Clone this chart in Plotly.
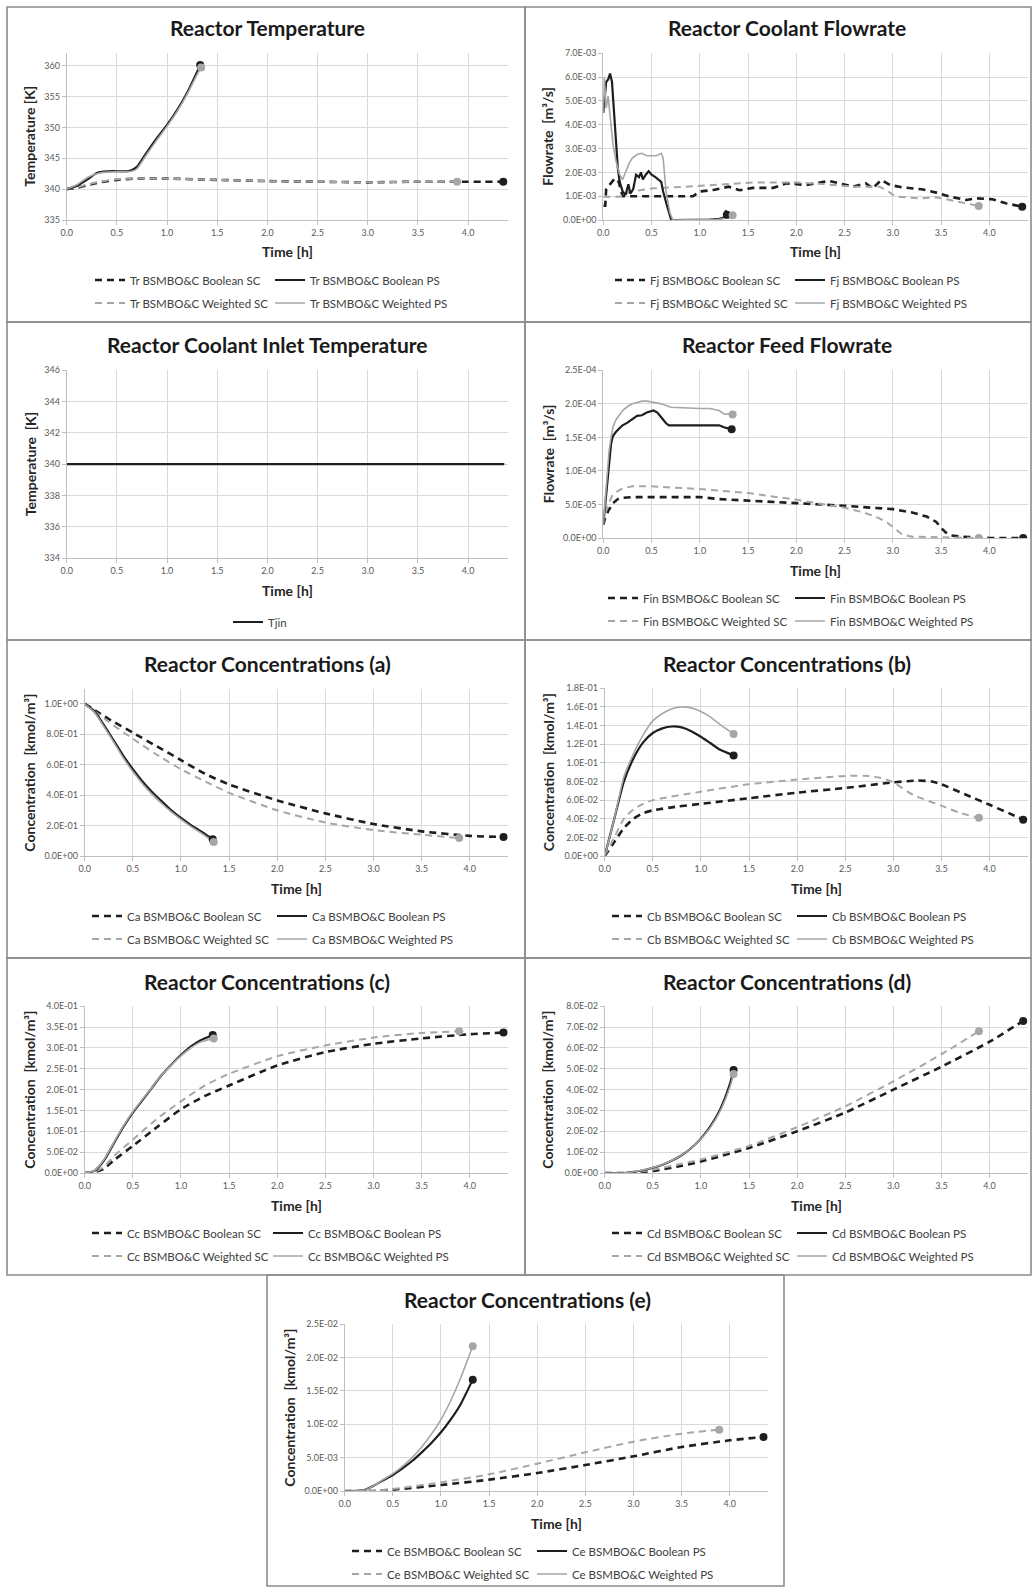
import plotly.graph_objects as go

W, H = 1034, 1588

# ---------------- data ----------------
TIME_TICKS = [0.0, 0.5, 1.0, 1.5, 2.0, 2.5, 3.0, 3.5, 4.0]
TIME_TICK_LABELS = ["0.0", "0.5", "1.0", "1.5", "2.0", "2.5", "3.0", "3.5", "4.0"]

# Panel 1: Reactor Temperature
TR_TICKS = [335, 340, 345, 350, 355, 360]
TR_TICK_LABELS = ["335", "340", "345", "350", "355", "360"]
TR_BOOL_SC_T = [0, 0.1, 0.2, 0.3, 0.5, 0.7, 1.0, 1.5, 2.0, 2.5, 3.0, 3.5, 4.0, 4.35]
TR_BOOL_SC_V = [340.0, 340.2, 340.6, 341.0, 341.5, 341.7, 341.7, 341.5, 341.3, 341.2, 341.1, 341.2, 341.2, 341.2]
TR_WGT_SC_T = [0, 0.1, 0.2, 0.3, 0.5, 0.7, 1.0, 1.5, 2.0, 2.5, 3.0, 3.5, 3.89]
TR_WGT_SC_V = [340.0, 340.3, 340.7, 341.1, 341.6, 341.7, 341.7, 341.5, 341.3, 341.2, 341.1, 341.2, 341.2]
TR_BOOL_PS_T = [0, 0.1, 0.2, 0.3, 0.35, 0.45, 0.6, 0.65, 0.7, 0.8, 0.9, 1.0, 1.1, 1.2, 1.3, 1.33]
TR_BOOL_PS_V = [340.0, 340.5, 341.5, 342.6, 342.8, 342.9, 342.9, 343.1, 343.6, 346.0, 348.3, 350.4, 352.8, 355.6, 359.0, 360.1]
TR_WGT_PS_T = [0, 0.1, 0.2, 0.25, 0.3, 0.35, 0.45, 0.6, 0.65, 0.7, 0.8, 0.9, 1.0, 1.1, 1.2, 1.3, 1.34]
TR_WGT_PS_V = [340.0, 340.7, 341.8, 342.2, 342.5, 342.7, 342.8, 342.8, 342.9, 343.3, 345.7, 348.0, 350.2, 352.6, 355.4, 358.6, 359.7]

# Panel 2: Reactor Coolant Flowrate
FJ_TICKS = [0, 0.001, 0.002, 0.003, 0.004, 0.005, 0.006, 0.007]
FJ_TICK_LABELS = ["0.0E+00", "1.0E-03", "2.0E-03", "3.0E-03", "4.0E-03", "5.0E-03", "6.0E-03", "7.0E-03"]
FJ_BOOL_SC_T = [0, 0.02, 0.03, 0.07, 0.12, 0.16, 0.2, 0.5, 0.93, 1.0, 1.14, 1.3, 1.41, 1.55, 1.76, 1.9, 2.1,
                2.34, 2.45, 2.59, 2.72, 2.79, 2.88, 2.97, 3.1, 3.3, 3.45, 3.59, 3.76, 3.86, 4.03, 4.17, 4.34]
FJ_BOOL_SC_V = [0.0006, 0.0006, 0.0013, 0.0015, 0.00175, 0.0016, 0.001, 0.001, 0.001, 0.0012, 0.00126, 0.0014,
                0.00125, 0.00135, 0.00135, 0.00154, 0.00147, 0.00164, 0.00154, 0.0014, 0.00154, 0.00133, 0.00168,
                0.00147, 0.00137, 0.00129, 0.00115, 0.00098, 0.00084, 0.00091, 0.00087, 0.0007, 0.00056]
FJ_WGT_SC_T = [0, 0.17, 0.28, 0.52, 0.86, 1.2, 1.55, 2.0, 2.24, 2.59, 2.86, 2.93, 3.03, 3.28, 3.45, 3.59, 3.76, 3.89]
FJ_WGT_SC_V = [0.00098, 0.00098, 0.0012, 0.00133, 0.0014, 0.00147, 0.00157, 0.00157, 0.00152, 0.0014, 0.0014,
               0.00126, 0.00098, 0.00091, 0.00095, 0.00084, 0.0007, 0.00059]
FJ_BOOL_PS_T = [0, 0.03, 0.05, 0.07, 0.09, 0.11, 0.13, 0.15, 0.17, 0.2, 0.23, 0.26, 0.28, 0.31, 0.34, 0.37, 0.39,
                0.41, 0.44, 0.47, 0.5, 0.54, 0.6, 0.62, 0.66, 0.7, 0.72, 1.0, 1.1, 1.2, 1.25, 1.27, 1.28]
FJ_BOOL_PS_V = [0.0045, 0.0058, 0.0059, 0.00615, 0.0058, 0.0045, 0.0032, 0.0022, 0.0016, 0.0012, 0.00105, 0.0015,
                0.0011, 0.0013, 0.0019, 0.0018, 0.002, 0.0017, 0.0019, 0.00205, 0.0019, 0.0018, 0.0016, 0.0012,
                0.0006, 0.00005, 0.0, 0.0, 0.00002, 0.00005, 0.0001, 0.0004, 0.00022]
FJ_WGT_PS_T = [0, 0.01, 0.03, 0.05, 0.08, 0.1, 0.13, 0.17, 0.2, 0.23, 0.27, 0.3, 0.35, 0.4, 0.45, 0.5, 0.55, 0.6,
               0.62, 0.65, 0.69, 0.72, 1.0, 1.2, 1.3, 1.34]
FJ_WGT_PS_V = [0.0045, 0.006, 0.0047, 0.0052, 0.004, 0.0032, 0.0025, 0.0019, 0.0017, 0.002, 0.0024, 0.0026,
               0.00275, 0.0028, 0.0027, 0.0027, 0.0027, 0.0028, 0.0026, 0.0012, 0.0003, 0.0, 0.0, 0.00003,
               0.0001, 0.0002]

# Panel 3: Reactor Coolant Inlet Temperature
TJ_TICKS = [334, 336, 338, 340, 342, 344, 346]
TJ_TICK_LABELS = ["334", "336", "338", "340", "342", "344", "346"]
TJIN_T = [0, 4.36]
TJIN_V = [340, 340]

# Panel 4: Reactor Feed Flowrate
FIN_TICKS = [0, 0.00005, 0.0001, 0.00015, 0.0002, 0.00025]
FIN_TICK_LABELS = ["0.0E+00", "5.0E-05", "1.0E-04", "1.5E-04", "2.0E-04", "2.5E-04"]
FIN_BOOL_SC_T = [0, 0.02, 0.05, 0.08, 0.1, 0.15, 0.2, 0.3, 0.5, 1.0, 1.2, 1.5, 2.0, 2.5, 2.8, 3.0, 3.2, 3.35,
                 3.45, 3.5, 3.55, 3.6, 3.7, 3.8, 4.0, 4.35]
FIN_BOOL_SC_V = [2.0e-5, 3.0e-5, 4.0e-5, 4.8e-5, 5.2e-5, 5.8e-5, 6.0e-5, 6.1e-5, 6.1e-5, 6.1e-5, 5.8e-5, 5.6e-5,
                 5.2e-5, 4.8e-5, 4.5e-5, 4.3e-5, 3.8e-5, 3.2e-5, 2.4e-5, 1.5e-5, 0.8e-5, 0.4e-5, 0.2e-5, 0.1e-5,
                 0.0, 0.0]
FIN_WGT_SC_T = [0, 0.02, 0.05, 0.08, 0.1, 0.15, 0.2, 0.3, 0.5, 1.0, 1.5, 2.0, 2.5, 2.7, 2.85, 2.95, 3.0, 3.05,
                3.1, 3.2, 3.5, 3.89]
FIN_WGT_SC_V = [2.0e-5, 3.5e-5, 5.0e-5, 6.0e-5, 6.5e-5, 7.0e-5, 7.4e-5, 7.7e-5, 7.7e-5, 7.3e-5, 6.7e-5, 5.7e-5,
                4.5e-5, 3.8e-5, 3.0e-5, 2.2e-5, 1.6e-5, 1.0e-5, 0.5e-5, 0.2e-5, 0.1e-5, 0.0]
FIN_BOOL_PS_T = [0, 0.02, 0.04, 0.06, 0.08, 0.1, 0.13, 0.17, 0.2, 0.25, 0.3, 0.35, 0.4, 0.45, 0.52, 0.56, 0.6,
                 0.65, 0.68, 0.8, 1.0, 1.2, 1.25, 1.33]
FIN_BOOL_PS_V = [2.0e-5, 5.0e-5, 9.0e-5, 1.2e-4, 1.4e-4, 1.52e-4, 1.58e-4, 1.64e-4, 1.68e-4, 1.72e-4, 1.77e-4,
                 1.82e-4, 1.83e-4, 1.87e-4, 1.9e-4, 1.87e-4, 1.8e-4, 1.71e-4, 1.68e-4, 1.68e-4, 1.68e-4, 1.68e-4,
                 1.65e-4, 1.62e-4]
FIN_WGT_PS_T = [0, 0.02, 0.04, 0.06, 0.08, 0.1, 0.13, 0.17, 0.2, 0.25, 0.3, 0.35, 0.4, 0.45, 0.5, 0.6, 0.7, 0.8,
                1.0, 1.1, 1.2, 1.25, 1.34]
FIN_WGT_PS_V = [2.0e-5, 6.0e-5, 1.0e-4, 1.3e-4, 1.5e-4, 1.65e-4, 1.76e-4, 1.85e-4, 1.9e-4, 1.96e-4, 2.0e-4,
                2.02e-4, 2.04e-4, 2.04e-4, 2.03e-4, 2.0e-4, 1.95e-4, 1.94e-4, 1.93e-4, 1.93e-4, 1.9e-4, 1.85e-4,
                1.84e-4]

# Panel 5: Reactor Concentrations (a)
CA_TICKS = [0, 0.2, 0.4, 0.6, 0.8, 1.0]
CA_TICK_LABELS = ["0.0E+00", "2.0E-01", "4.0E-01", "6.0E-01", "8.0E-01", "1.0E+00"]
CA_BOOL_SC_T = [0, 0.25, 0.5, 0.75, 1.0, 1.25, 1.5, 2.0, 2.5, 3.0, 3.5, 4.0, 4.35]
CA_BOOL_SC_V = [1.0, 0.9, 0.81, 0.72, 0.63, 0.54, 0.47, 0.365, 0.28, 0.21, 0.162, 0.132, 0.125]
CA_WGT_SC_T = [0, 0.25, 0.5, 0.75, 1.0, 1.25, 1.5, 2.0, 2.5, 3.0, 3.5, 3.89]
CA_WGT_SC_V = [1.0, 0.88, 0.77, 0.665, 0.57, 0.49, 0.415, 0.30, 0.22, 0.17, 0.14, 0.118]
CA_BOOL_PS_T = [0, 0.1, 0.2, 0.3, 0.4, 0.5, 0.6, 0.7, 0.8, 0.9, 1.0, 1.1, 1.2, 1.33]
CA_BOOL_PS_V = [1.0, 0.95, 0.86, 0.76, 0.66, 0.57, 0.49, 0.42, 0.36, 0.30, 0.25, 0.205, 0.165, 0.11]
CA_WGT_PS_T = [0, 0.1, 0.2, 0.3, 0.4, 0.5, 0.6, 0.7, 0.8, 0.9, 1.0, 1.1, 1.2, 1.34]
CA_WGT_PS_V = [1.0, 0.945, 0.85, 0.75, 0.645, 0.555, 0.475, 0.405, 0.345, 0.29, 0.24, 0.195, 0.155, 0.092]

# Panel 6: Reactor Concentrations (b)
CB_TICKS = [0, 0.02, 0.04, 0.06, 0.08, 0.10, 0.12, 0.14, 0.16, 0.18]
CB_TICK_LABELS = ["0.0E+00", "2.0E-02", "4.0E-02", "6.0E-02", "8.0E-02", "1.0E-01", "1.2E-01", "1.4E-01",
                  "1.6E-01", "1.8E-01"]
CB_BOOL_SC_T = [0, 0.1, 0.2, 0.3, 0.4, 0.5, 0.75, 1.0, 1.5, 2.0, 2.5, 3.0, 3.25, 3.4, 3.5, 3.75, 4.0, 4.2, 4.35]
CB_BOOL_SC_V = [0.0, 0.015, 0.03, 0.04, 0.046, 0.049, 0.053, 0.056, 0.062, 0.068, 0.073, 0.079, 0.081, 0.08,
                0.077, 0.066, 0.055, 0.046, 0.039]
CB_WGT_SC_T = [0, 0.1, 0.2, 0.3, 0.4, 0.5, 1.0, 1.5, 2.0, 2.5, 2.75, 2.9, 3.0, 3.2, 3.5, 3.7, 3.89]
CB_WGT_SC_V = [0.0, 0.02, 0.04, 0.05, 0.056, 0.06, 0.069, 0.077, 0.082, 0.086, 0.086, 0.083, 0.079, 0.066,
               0.054, 0.046, 0.041]
CB_BOOL_PS_T = [0, 0.1, 0.2, 0.3, 0.4, 0.5, 0.6, 0.7, 0.8, 0.9, 1.0, 1.1, 1.2, 1.34]
CB_BOOL_PS_V = [0.0, 0.04, 0.08, 0.105, 0.122, 0.132, 0.137, 0.139, 0.138, 0.134, 0.128, 0.121, 0.114, 0.108]
CB_WGT_PS_T = [0, 0.1, 0.2, 0.3, 0.4, 0.5, 0.6, 0.7, 0.8, 0.9, 1.0, 1.1, 1.2, 1.34]
CB_WGT_PS_V = [0.0, 0.04, 0.085, 0.11, 0.13, 0.145, 0.153, 0.158, 0.16, 0.159, 0.155, 0.149, 0.141, 0.131]

# Panel 7: Reactor Concentrations (c)
CC_TICKS = [0, 0.05, 0.10, 0.15, 0.20, 0.25, 0.30, 0.35, 0.40]
CC_TICK_LABELS = ["0.0E+00", "5.0E-02", "1.0E-01", "1.5E-01", "2.0E-01", "2.5E-01", "3.0E-01", "3.5E-01",
                  "4.0E-01"]
CC_BOOL_SC_T = [0, 0.1, 0.2, 0.3, 0.5, 0.75, 1.0, 1.25, 1.5, 2.0, 2.5, 3.0, 3.5, 4.0, 4.35]
CC_BOOL_SC_V = [0.0, 0.002, 0.01, 0.03, 0.065, 0.11, 0.153, 0.185, 0.21, 0.258, 0.29, 0.31, 0.323, 0.333, 0.337]
CC_WGT_SC_T = [0, 0.1, 0.2, 0.3, 0.5, 0.75, 1.0, 1.25, 1.5, 2.0, 2.5, 3.0, 3.5, 3.89]
CC_WGT_SC_V = [0.0, 0.003, 0.015, 0.04, 0.08, 0.13, 0.172, 0.21, 0.238, 0.28, 0.306, 0.325, 0.336, 0.34]
CC_BOOL_PS_T = [0, 0.1, 0.2, 0.3, 0.4, 0.5, 0.6, 0.7, 0.8, 0.9, 1.0, 1.1, 1.2, 1.33]
CC_BOOL_PS_V = [0.0, 0.005, 0.03, 0.07, 0.11, 0.145, 0.175, 0.205, 0.235, 0.26, 0.283, 0.303, 0.318, 0.331]
CC_WGT_PS_T = [0, 0.1, 0.2, 0.3, 0.4, 0.5, 0.6, 0.7, 0.8, 0.9, 1.0, 1.1, 1.2, 1.34]
CC_WGT_PS_V = [0.0, 0.006, 0.032, 0.072, 0.112, 0.147, 0.177, 0.206, 0.235, 0.259, 0.281, 0.3, 0.314, 0.323]

# Panel 8: Reactor Concentrations (d)
CD_TICKS = [0, 0.01, 0.02, 0.03, 0.04, 0.05, 0.06, 0.07, 0.08]
CD_TICK_LABELS = ["0.0E+00", "1.0E-02", "2.0E-02", "3.0E-02", "4.0E-02", "5.0E-02", "6.0E-02", "7.0E-02",
                  "8.0E-02"]
CD_BOOL_SC_T = [0, 0.25, 0.5, 0.75, 1.0, 1.5, 2.0, 2.5, 3.0, 3.5, 4.0, 4.35]
CD_BOOL_SC_V = [0.0, 0.0, 0.001, 0.003, 0.0055, 0.012, 0.02, 0.029, 0.04, 0.051, 0.063, 0.073]
CD_WGT_SC_T = [0, 0.25, 0.5, 0.75, 1.0, 1.5, 2.0, 2.5, 3.0, 3.5, 3.89]
CD_WGT_SC_V = [0.0, 0.0, 0.0015, 0.004, 0.0065, 0.013, 0.022, 0.032, 0.044, 0.057, 0.068]
CD_BOOL_PS_T = [0, 0.2, 0.3, 0.4, 0.5, 0.6, 0.7, 0.8, 0.9, 1.0, 1.1, 1.2, 1.3, 1.34]
CD_BOOL_PS_V = [0.0, 0.0, 0.0005, 0.0013, 0.0025, 0.004, 0.006, 0.0085, 0.012, 0.0165, 0.0225, 0.0305, 0.0425, 0.0494]
CD_WGT_PS_T = [0, 0.2, 0.3, 0.4, 0.5, 0.6, 0.7, 0.8, 0.9, 1.0, 1.1, 1.2, 1.3, 1.34]
CD_WGT_PS_V = [0.0, 0.0, 0.0006, 0.0014, 0.0026, 0.0041, 0.0061, 0.0086, 0.012, 0.0163, 0.022, 0.0297, 0.041, 0.0475]

# Panel 9: Reactor Concentrations (e)
CE_TICKS = [0, 0.005, 0.010, 0.015, 0.020, 0.025]
CE_TICK_LABELS = ["0.0E+00", "5.0E-03", "1.0E-02", "1.5E-02", "2.0E-02", "2.5E-02"]
CE_BOOL_SC_T = [0, 0.3, 0.5, 1.0, 1.5, 2.0, 2.5, 3.0, 3.5, 4.0, 4.35]
CE_BOOL_SC_V = [0.0, 0.0, 0.0002, 0.0009, 0.0017, 0.0027, 0.0039, 0.0052, 0.0066, 0.0076, 0.0081]
CE_WGT_SC_T = [0, 0.3, 0.5, 1.0, 1.5, 2.0, 2.5, 3.0, 3.5, 3.89]
CE_WGT_SC_V = [0.0, 0.0, 0.0003, 0.0013, 0.0025, 0.0041, 0.0058, 0.0074, 0.0086, 0.0092]
CE_BOOL_PS_T = [0, 0.2, 0.3, 0.4, 0.5, 0.6, 0.7, 0.8, 0.9, 1.0, 1.1, 1.2, 1.33]
CE_BOOL_PS_V = [0.0, 0.0001, 0.0008, 0.0016, 0.0024, 0.0034, 0.0045, 0.0058, 0.0072, 0.0088, 0.0107, 0.0129, 0.0167]
CE_WGT_PS_T = [0, 0.2, 0.3, 0.4, 0.5, 0.6, 0.7, 0.8, 0.9, 1.0, 1.1, 1.2, 1.33]
CE_WGT_PS_V = [0.0, 0.0001, 0.0008, 0.0017, 0.0026, 0.0037, 0.005, 0.0066, 0.0085, 0.0107, 0.0135, 0.0168, 0.0217]

# ---------------- styling / layout ----------------
FONT = "Lato, 'Open Sans', sans-serif"
BLACK = "#1e1e1e"
GRAY = "#a6a6a6"
GRID = "#d9d9d9"

STYLES = {
    "bool_sc": dict(color=BLACK, width=2.6, dash="7px,5px"),
    "wgt_sc": dict(color=GRAY, width=2.0, dash="7px,5px"),
    "bool_ps": dict(color=BLACK, width=2.2, dash="solid"),
    "wgt_ps": dict(color=GRAY, width=1.6, dash="solid"),
}
MARKER_COLOR = {"bool_sc": BLACK, "wgt_sc": GRAY, "bool_ps": BLACK, "wgt_ps": GRAY}


def fx(px):
    return px / W


def fy(py):
    return 1 - py / H


PANELS = [
    dict(title="Reactor Temperature", ytitle="Temperature [K]", box=(66.7, 508.3, 53.3, 220),
         frame=(7, 525, 7, 322), yr=[335, 362], yt=TR_TICKS, yl=TR_TICK_LABELS, prefix="Tr",
         series=[(TR_BOOL_SC_T, TR_BOOL_SC_V), (TR_WGT_SC_T, TR_WGT_SC_V),
                 (TR_BOOL_PS_T, TR_BOOL_PS_V), (TR_WGT_PS_T, TR_WGT_PS_V)],
         shape="spline", leg=(130, 310, 280), tx=267, ty=28),
    dict(title="Reactor Coolant Flowrate", ytitle="Flowrate  [m³/s]", box=(603.3, 1028, 53.3, 220),
         frame=(525, 1031, 7, 322), yr=[0, 0.007], yt=FJ_TICKS, yl=FJ_TICK_LABELS, prefix="Fj",
         series=[(FJ_BOOL_SC_T, FJ_BOOL_SC_V), (FJ_WGT_SC_T, FJ_WGT_SC_V),
                 (FJ_BOOL_PS_T, FJ_BOOL_PS_V), (FJ_WGT_PS_T, FJ_WGT_PS_V)],
         shape="linear", leg=(650, 830, 280), tx=787, ty=28),
    dict(title="Reactor Coolant Inlet Temperature", ytitle="Temperature  [K]", box=(66.7, 508.3, 370.3, 558),
         frame=(7, 525, 322, 640), yr=[334, 346], yt=TJ_TICKS, yl=TJ_TICK_LABELS, prefix=None,
         series=[(TJIN_T, TJIN_V)], shape="linear", leg=(268, None, 622), tx=267, ty=345),
    dict(title="Reactor Feed Flowrate", ytitle="Flowrate  [m³/s]", box=(603.3, 1028, 370.3, 538),
         frame=(525, 1031, 322, 640), yr=[0, 0.00025], yt=FIN_TICKS, yl=FIN_TICK_LABELS, prefix="Fin",
         series=[(FIN_BOOL_SC_T, FIN_BOOL_SC_V), (FIN_WGT_SC_T, FIN_WGT_SC_V),
                 (FIN_BOOL_PS_T, FIN_BOOL_PS_V), (FIN_WGT_PS_T, FIN_WGT_PS_V)],
         shape="linear", leg=(643, 830, 598), tx=787, ty=345),
    dict(title="Reactor Concentrations (a)", ytitle="Concentration  [kmol/m³]", box=(84.7, 508.3, 689.3, 856),
         frame=(7, 525, 640, 958), yr=[0, 1.095], yt=CA_TICKS, yl=CA_TICK_LABELS, prefix="Ca",
         series=[(CA_BOOL_SC_T, CA_BOOL_SC_V), (CA_WGT_SC_T, CA_WGT_SC_V),
                 (CA_BOOL_PS_T, CA_BOOL_PS_V), (CA_WGT_PS_T, CA_WGT_PS_V)],
         shape="spline", leg=(127, 312, 916), tx=267, ty=663),
    dict(title="Reactor Concentrations (b)", ytitle="Concentration  [kmol/m³]", box=(604.7, 1028, 688.3, 856),
         frame=(525, 1031, 640, 958), yr=[0, 0.18], yt=CB_TICKS, yl=CB_TICK_LABELS, prefix="Cb",
         series=[(CB_BOOL_SC_T, CB_BOOL_SC_V), (CB_WGT_SC_T, CB_WGT_SC_V),
                 (CB_BOOL_PS_T, CB_BOOL_PS_V), (CB_WGT_PS_T, CB_WGT_PS_V)],
         shape="spline", leg=(647, 832, 916), tx=787, ty=663),
    dict(title="Reactor Concentrations (c)", ytitle="Concentration  [kmol/m³]", box=(84.7, 508.3, 1006.3, 1173),
         frame=(7, 525, 958, 1275), yr=[0, 0.4], yt=CC_TICKS, yl=CC_TICK_LABELS, prefix="Cc",
         series=[(CC_BOOL_SC_T, CC_BOOL_SC_V), (CC_WGT_SC_T, CC_WGT_SC_V),
                 (CC_BOOL_PS_T, CC_BOOL_PS_V), (CC_WGT_PS_T, CC_WGT_PS_V)],
         shape="spline", leg=(127, 308, 1233), tx=267, ty=981),
    dict(title="Reactor Concentrations (d)", ytitle="Concentration  [kmol/m³]", box=(604.7, 1028, 1006.3, 1173),
         frame=(525, 1031, 958, 1275), yr=[0, 0.08], yt=CD_TICKS, yl=CD_TICK_LABELS, prefix="Cd",
         series=[(CD_BOOL_SC_T, CD_BOOL_SC_V), (CD_WGT_SC_T, CD_WGT_SC_V),
                 (CD_BOOL_PS_T, CD_BOOL_PS_V), (CD_WGT_PS_T, CD_WGT_PS_V)],
         shape="spline", leg=(647, 832, 1233), tx=787, ty=981),
    dict(title="Reactor Concentrations (e)", ytitle="Concentration  [kmol/m³]", box=(344.7, 768.3, 1324.3, 1491),
         frame=(267, 784, 1275, 1586), yr=[0, 0.025], yt=CE_TICKS, yl=CE_TICK_LABELS, prefix="Ce",
         series=[(CE_BOOL_SC_T, CE_BOOL_SC_V), (CE_WGT_SC_T, CE_WGT_SC_V),
                 (CE_BOOL_PS_T, CE_BOOL_PS_V), (CE_WGT_PS_T, CE_WGT_PS_V)],
         shape="spline", leg=(387, 572, 1551), tx=527, ty=1299),
]

KINDS = ["bool_sc", "wgt_sc", "bool_ps", "wgt_ps"]
LABELS = {"bool_sc": "BSMBO&C Boolean SC", "wgt_sc": "BSMBO&C Weighted SC",
          "bool_ps": "BSMBO&C Boolean PS", "wgt_ps": "BSMBO&C Weighted PS"}

fig = go.Figure()
layout = {}
annotations = []
shapes = []
legend_count = 0


def next_legend():
    global legend_count
    legend_count += 1
    return "legend" if legend_count == 1 else f"legend{legend_count}"


LEG_FONT = dict(family=FONT, size=11.5, color="#404040")
TEXT_OFFSET = 40
TOP_OFFSET = 14.5
TICK_FONT = dict(family=FONT, size=9, color="#595959")

for i, p in enumerate(PANELS, start=1):
    xa = "x" if i == 1 else f"x{i}"
    ya = "y" if i == 1 else f"y{i}"
    x0, x1, yt, yb = p["box"]
    layout["xaxis" if i == 1 else f"xaxis{i}"] = dict(
        domain=[fx(x0), fx(x1)], anchor=ya, range=[0, 4.4], tickvals=TIME_TICKS, ticktext=TIME_TICK_LABELS,
        showgrid=True, gridcolor=GRID, gridwidth=1, zeroline=False, showline=True, linecolor="#bfbfbf",
        ticks="outside", ticklen=4, tickcolor="#bfbfbf", tickfont=TICK_FONT, fixedrange=True,
        automargin=False)
    layout["yaxis" if i == 1 else f"yaxis{i}"] = dict(
        domain=[fy(yb), fy(yt)], anchor=xa, range=p["yr"], tickvals=p["yt"], ticktext=p["yl"],
        showgrid=True, gridcolor=GRID, gridwidth=1, zeroline=False, showline=True, linecolor="#bfbfbf",
        ticks="outside", ticklen=4, tickcolor="#bfbfbf", tickfont=TICK_FONT, fixedrange=True,
        automargin=False)

    lc1, lc2, lrow = p["leg"]
    if p["prefix"] is None:
        lid = next_legend()
        t, v = p["series"][0]
        fig.add_trace(go.Scatter(x=t, y=v, mode="lines", name="Tjin", xaxis=xa, yaxis=ya,
                                 line=dict(color=BLACK, width=2.2), legend=lid))
        layout[lid] = dict(x=fx(lc1 - TEXT_OFFSET), y=fy(lrow - TOP_OFFSET), xanchor="left", yanchor="top",
                           orientation="v", bgcolor="rgba(0,0,0,0)", font=LEG_FONT, itemwidth=30)
    else:
        lid1 = next_legend()
        lid2 = next_legend()
        for kind, (t, v) in zip(KINDS, p["series"]):
            lid = lid1 if kind.endswith("sc") else lid2
            fig.add_trace(go.Scatter(x=t, y=v, mode="lines", name=f"{p['prefix']} {LABELS[kind]}",
                                     xaxis=xa, yaxis=ya, line=dict(shape=p["shape"], smoothing=0.6, **STYLES[kind]),
                                     legend=lid, legendgroup=f"{i}_{kind}"))
        for kind, (t, v) in zip(KINDS, p["series"]):
            fig.add_trace(go.Scatter(x=[t[-1]], y=[v[-1]], mode="markers", xaxis=xa, yaxis=ya, showlegend=False,
                                     hoverinfo="skip",
                                     marker=dict(color=MARKER_COLOR[kind], size=8)))
        for lid, lx in ((lid1, lc1), (lid2, lc2)):
            layout[lid] = dict(x=fx(lx - TEXT_OFFSET), y=fy(lrow - TOP_OFFSET), xanchor="left", yanchor="top",
                               orientation="v", bgcolor="rgba(0,0,0,0)", font=LEG_FONT, itemwidth=30,
                               tracegroupgap=4)

    annotations.append(dict(text=f"<b>{p['title']}</b>", x=fx(p["tx"]), y=fy(p["ty"]), xref="paper",
                            yref="paper", showarrow=False, xanchor="center", yanchor="middle",
                            font=dict(family=FONT, size=21, color="#1a1a1a")))
    annotations.append(dict(text="<b>Time [h]</b>", x=fx((x0 + x1) / 2), y=fy(yb + 32), xref="paper",
                            yref="paper", showarrow=False, xanchor="center", yanchor="middle",
                            font=dict(family=FONT, size=14, color="#262626")))
    annotations.append(dict(text=f"<b>{p['ytitle']}</b>", x=fx(p["frame"][0] + 23), y=fy((yt + yb) / 2),
                            xref="paper", yref="paper", showarrow=False, xanchor="center", yanchor="middle",
                            textangle=-90, font=dict(family=FONT, size=14, color="#262626")))
    fx0, fx1, fy0, fy1 = p["frame"]
    shapes.append(dict(type="rect", xref="paper", yref="paper", x0=fx(fx0), x1=fx(fx1), y0=fy(fy1), y1=fy(fy0),
                       line=dict(color="#8c8c8c", width=1.6), fillcolor="rgba(0,0,0,0)", layer="below"))

fig.update_layout(**layout)
fig.update_layout(width=W, height=H, margin=dict(l=0, r=0, t=0, b=0, pad=0, autoexpand=False),
                  paper_bgcolor="white", plot_bgcolor="white", annotations=annotations, shapes=shapes,
                  font=dict(family=FONT, color="#404040"), hovermode="closest")

fig.write_html(
    "out.html",
    config={"displayModeBar": False},
    post_script="document.body.style.margin='0px';document.body.style.padding='0px';"
                "document.documentElement.style.overflow='hidden';",
)
